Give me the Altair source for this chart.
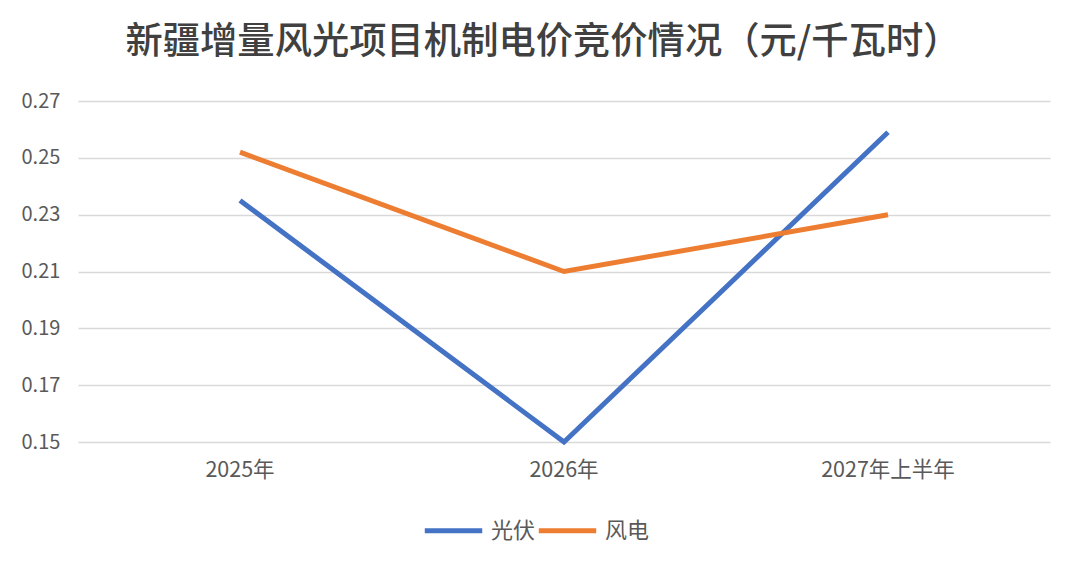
import altair as alt
import pandas as pd

categories = ["2025年", "2026年", "2027年上半年"]
pv_values = [0.235, 0.150, 0.259]
wind_values = [0.252, 0.210, 0.230]
series_names = ["光伏", "风电"]
series_colors = ["#4472C4", "#ED7D31"]
y_ticks = [0.15, 0.17, 0.19, 0.21, 0.23, 0.25, 0.27]

rows = []
for c, v in zip(categories, pv_values):
    rows.append({"category": c, "series": series_names[0], "value": v})
for c, v in zip(categories, wind_values):
    rows.append({"category": c, "series": series_names[1], "value": v})
df = pd.DataFrame(rows)

FONT = "Noto Sans CJK SC"
GREY = "#595959"

chart = (
    alt.Chart(df)
    .mark_line(strokeWidth=5, strokeCap="butt", strokeJoin="miter")
    .encode(
        x=alt.X(
            "category:N",
            sort=categories,
            scale=alt.Scale(type="band", paddingInner=0, paddingOuter=0),
            axis=alt.Axis(
                title=None, labelAngle=0, domain=False, ticks=False, grid=False,
                labelFont=FONT, labelFontSize=21.5, labelColor=GREY, labelPadding=17,
            ),
        ),
        y=alt.Y(
            "value:Q",
            scale=alt.Scale(domain=[0.15, 0.27], nice=False, zero=False),
            axis=alt.Axis(
                title=None, values=y_ticks, format=".2f", domain=False, ticks=False,
                grid=True, gridColor="#D9D9D9", gridWidth=1.3,
                labelFont=FONT, labelFontSize=20, labelColor=GREY,
                labelAlign="left", labelPadding=57,
            ),
        ),
        color=alt.Color(
            "series:N",
            sort=series_names,
            scale=alt.Scale(domain=series_names, range=series_colors),
            legend=alt.Legend(
                title=None, orient="none", legendX=344, legendY=398,
                direction="horizontal", symbolType="stroke", symbolSize=3300,
                symbolStrokeWidth=5, labelFont=FONT, labelFontSize=22,
                labelColor=GREY, columnPadding=-8, labelOffset=6,
            ),
        ),
    )
    .properties(
        width=972,
        height=341,
        padding={"left": 70, "top": 93, "right": 22, "bottom": 114},
        autosize=alt.AutoSizeParams(type="none"),
        background="white",
        title=alt.TitleParams(
            "新疆增量风光项目机制电价竞价情况（元/千瓦时）",
            font=FONT, fontSize=37.3, fontWeight=500, color="#404040",
            anchor="middle", dx=-21, offset=29,
        ),
    )
    .configure_view(strokeWidth=0)
)

chart.save("out.html", embed_options={"renderer": "svg", "actions": False})
